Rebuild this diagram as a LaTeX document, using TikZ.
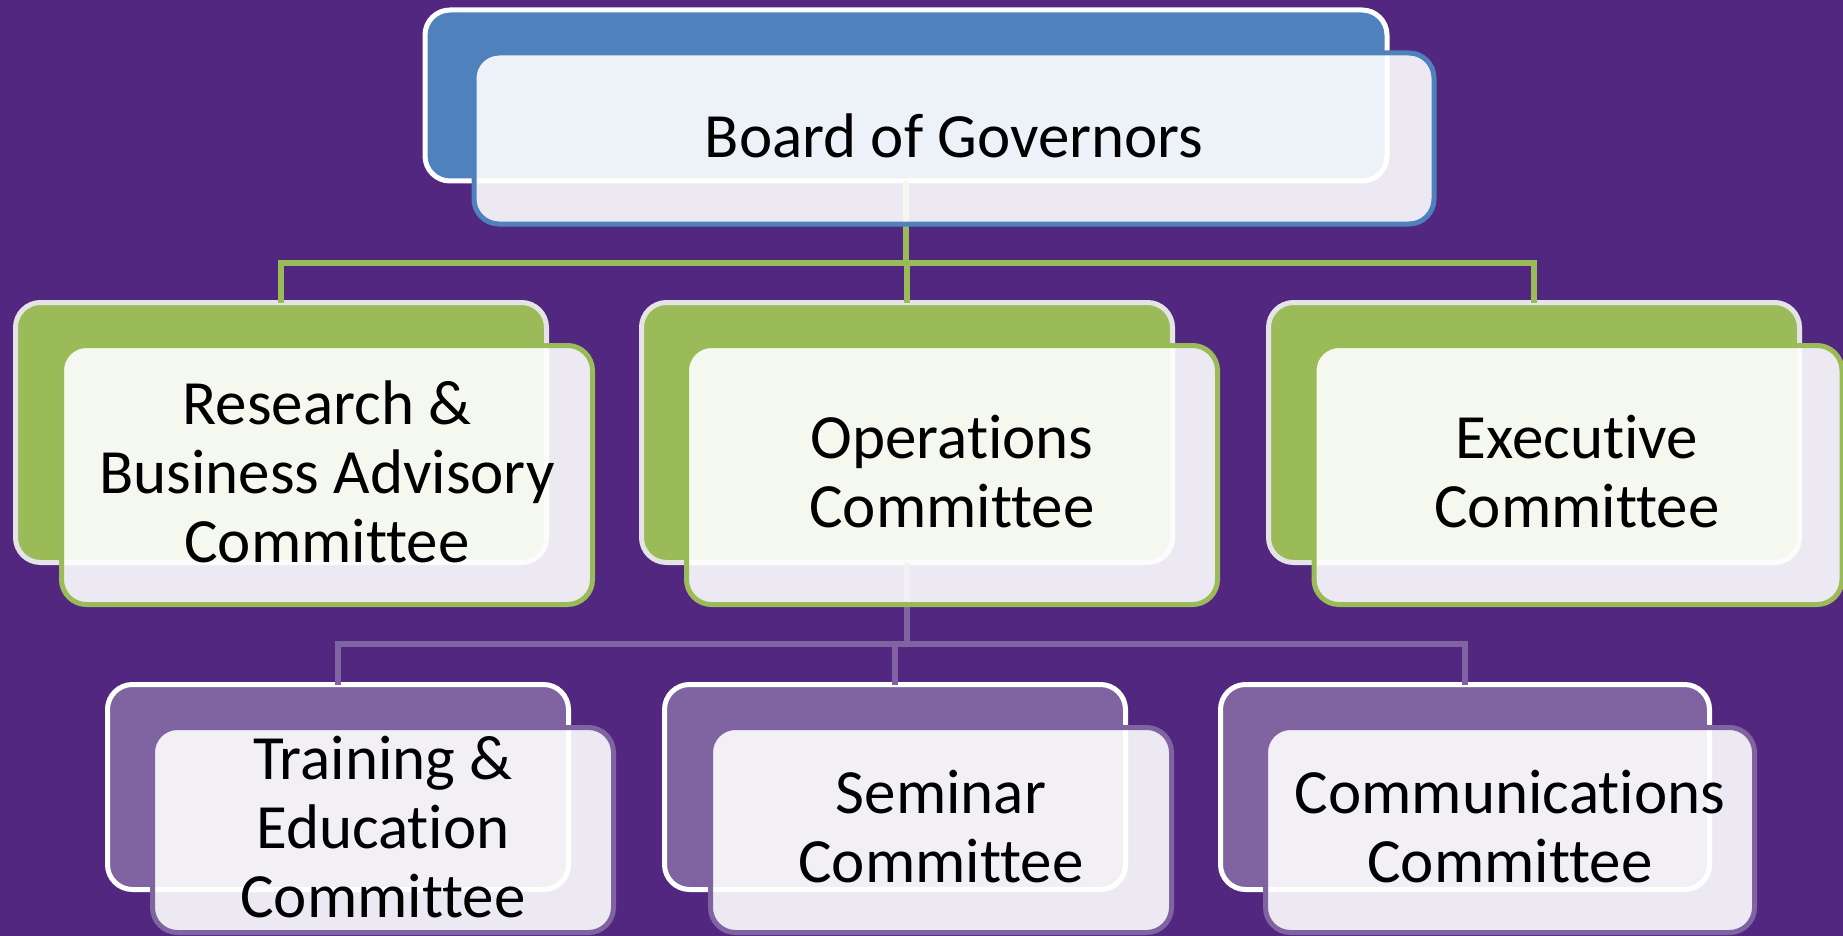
\documentclass[tikz,border=0pt]{standalone}
\usepackage{fontspec}
\setmainfont{Carlito}[Ligatures={NoCommon,NoContextual},Contextuals=NoAlternate]
\definecolor{bgc}{RGB}{81,39,127}
\definecolor{bluec}{RGB}{79,129,189}
\definecolor{greenc}{RGB}{155,187,89}
\definecolor{purc}{RGB}{128,100,162}
\definecolor{gbord}{RGB}{228,228,230}
\begin{document}
\begin{tikzpicture}[x=1pt,y=-1pt,
  box/.style={rectangle, rounded corners=25pt, line width=5pt, inner sep=0pt, outer sep=0pt},
  backbox/.style={box, draw=white},
  frontbox/.style={box, fill=white, fill opacity=0.9},
  txt/.style={align=center, inner sep=0pt, font=\fontsize{63}{69}\selectfont, text=black},
  topback/.style={backbox, fill=bluec, minimum width=962pt, minimum height=171pt},
  topfront/.style={frontbox, draw=bluec, minimum width=960pt, minimum height=171pt},
  gback/.style={backbox, draw=gbord, fill=greenc, minimum width=531pt, minimum height=260pt},
  gfront/.style={frontbox, draw=greenc, minimum width=531pt, minimum height=259pt},
  pback/.style={backbox, fill=purc, minimum height=205pt},
  pfront/.style={frontbox, draw=purc, minimum height=205pt},
  gline/.style={draw=greenc, line width=5.5pt},
  pline/.style={draw=purc, line width=5.5pt}
]
\fill[bgc] (0,0) rectangle (1843,936);
\useasboundingbox (0,0) rectangle (1843,936);

% back boxes
\node[topback] (tb) at (906,95.5) {};
\node[gback] (g1b) at (281,432.5) {};
\node[gback] (g2b) at (907,432.5) {};
\node[gback] (g3b) at (1534,432.5) {};
\node[pback, minimum width=461pt] (p1b) at (338,787) {};
\node[pback, minimum width=461pt] (p2b) at (895,787) {};
\node[pback, minimum width=489pt] (p3b) at (1465,787) {};

% connectors
\coordinate (busg) at (906,263);
\draw[gline] (tb.south) -- (busg);
\draw[gline] (busg) -| (g1b.north);
\draw[gline] (busg) -| (g2b.north);
\draw[gline] (busg) -| (g3b.north);
\coordinate (busp) at (907,644);
\draw[pline] (g2b.south) -- (busp);
\draw[pline] (busp) -| (p1b.north);
\draw[pline] (busp) -| (p2b.north);
\draw[pline] (busp) -| (p3b.north);

% front boxes
\node[topfront] (tf) at (954,138.5) {};
\node[gfront] (g1f) at (327,475) {};
\node[gfront] (g2f) at (952,475) {};
\node[gfront, minimum width=528pt] (g3f) at (1578,475) {};
\node[pfront, minimum width=461pt] (p1f) at (383,830) {};
\node[pfront, minimum width=461pt] (p2f) at (941,830) {};
\node[pfront, minimum width=489pt] (p3f) at (1510,830) {};

% texts
\node[txt] (tft) at ([yshift=3pt]tf.center) {Board of Governors};
\node[txt] (g1t) at ([yshift=3pt]g1f.center) {Research \&\\Business Advisory\\Committee};
\node[txt] (g2t) at ([yshift=3pt]g2f.center) {Operations\\Committee};
\node[txt] (g3t) at ([xshift=-1pt,yshift=3pt]g3f.center) {Executive\\Committee};
\node[txt] (p1t) at ([yshift=3pt]p1f.center) {Training \&\\Education\\Committee};
\node[txt] (p2t) at ([yshift=3pt]p2f.center) {Seminar\\Committee};
\node[txt] (p3t) at ([yshift=3pt]p3f.center) {Communications\\Committee};
\end{tikzpicture}
\end{document}
